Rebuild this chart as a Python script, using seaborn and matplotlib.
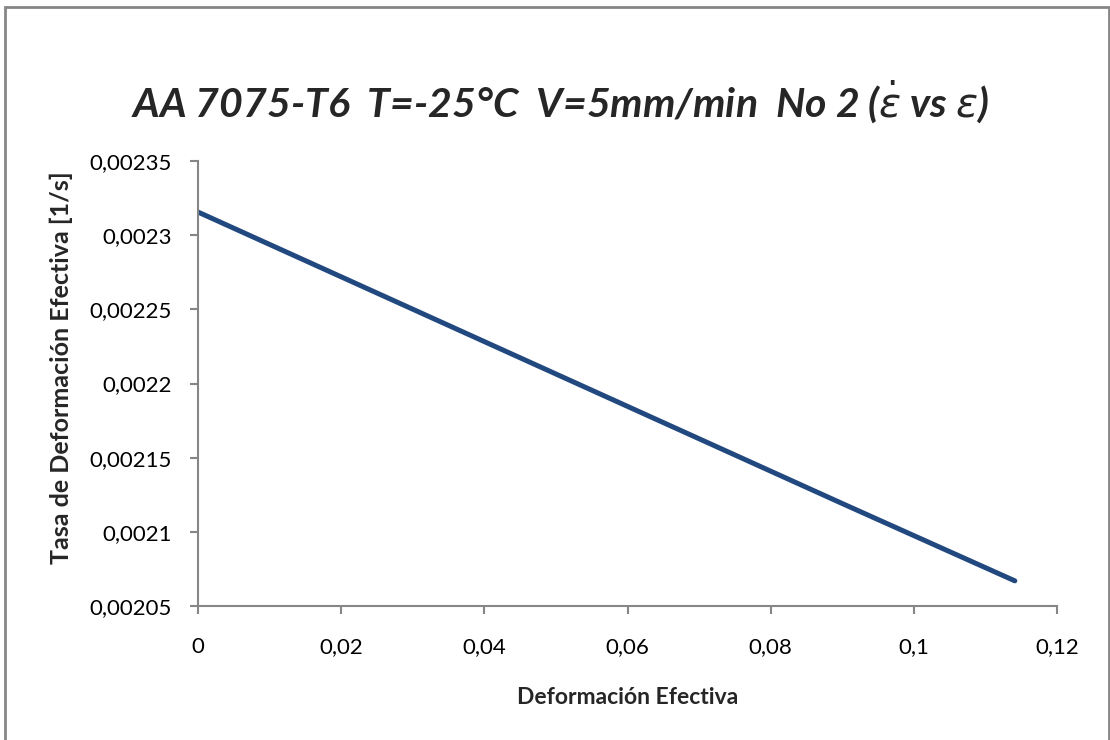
import matplotlib
matplotlib.use("Agg")
import matplotlib.pyplot as plt
import matplotlib.ticker as mticker
from matplotlib.patches import Rectangle
import seaborn as sns
import pandas as pd

# Datos (deformacion efectiva vs tasa de deformacion)
deformacion = [0.0, 0.03, 0.06, 0.09, 0.1141]
tasa = [0.0023156, 0.0022501, 0.0021846, 0.0021191, 0.0020670]

x_ticks = [0, 0.02, 0.04, 0.06, 0.08, 0.1, 0.12]
y_ticks = [0.00205, 0.0021, 0.00215, 0.0022, 0.00225, 0.0023, 0.00235]

df = pd.DataFrame({"deformacion": deformacion, "tasa": tasa})

sns.set_style("white")
plt.rcParams['font.family'] = ['Lato', 'DejaVu Sans']

fig = plt.figure(figsize=(11.1, 7.4), dpi=100)
ax = fig.add_axes([0.1784, 0.181, 0.9523 - 0.1784, 0.7824 - 0.181])

sns.lineplot(data=df, x="deformacion", y="tasa", ax=ax, color="#22497F", linewidth=3.6,
             solid_capstyle="round")

ax.set_xlim(0, 0.12)
ax.set_ylim(0.00205, 0.00235)
ax.set_xticks(x_ticks)
ax.set_yticks(y_ticks)

# etiquetas con coma decimal
coma = mticker.FuncFormatter(lambda v, p: ('%g' % round(v, 6)).replace('.', ','))
ax.xaxis.set_major_formatter(coma)
ax.yaxis.set_major_formatter(coma)

for lado in ['top', 'right']:
    ax.spines[lado].set_visible(False)
for lado in ['left', 'bottom']:
    ax.spines[lado].set_color('#868686')
    ax.spines[lado].set_linewidth(1.5)

ax.tick_params(axis='both', direction='out', length=6, width=1.5, color='#868686',
               labelsize=16, labelcolor='black', left=True, bottom=True)
ax.tick_params(axis='x', pad=16)
ax.tick_params(axis='y', pad=13)

ax.set_xlabel('Deformación Efectiva', fontsize=16.5, fontweight='bold', labelpad=22)
ax.set_ylabel('Tasa de Deformación Efectiva [1/s]', fontsize=18, fontweight='bold')
ax.yaxis.set_label_coords(-0.145, 0.535)

fig.text(0.5045, 0.862, 'AA 7075-T6  T=-25°C  V=5mm/min  No 2 ($\\dot{\\varepsilon}$ vs $\\varepsilon$)',
         fontsize=29.5, fontweight='bold', fontstyle='italic', ha='center', va='center')

# marco gris alrededor del grafico
fig.patches.append(Rectangle((0.0045, -0.05), 0.9945, 1.04, transform=fig.transFigure,
                             fill=False, edgecolor='#868686', linewidth=2))

fig.savefig("out.png", dpi=100)
